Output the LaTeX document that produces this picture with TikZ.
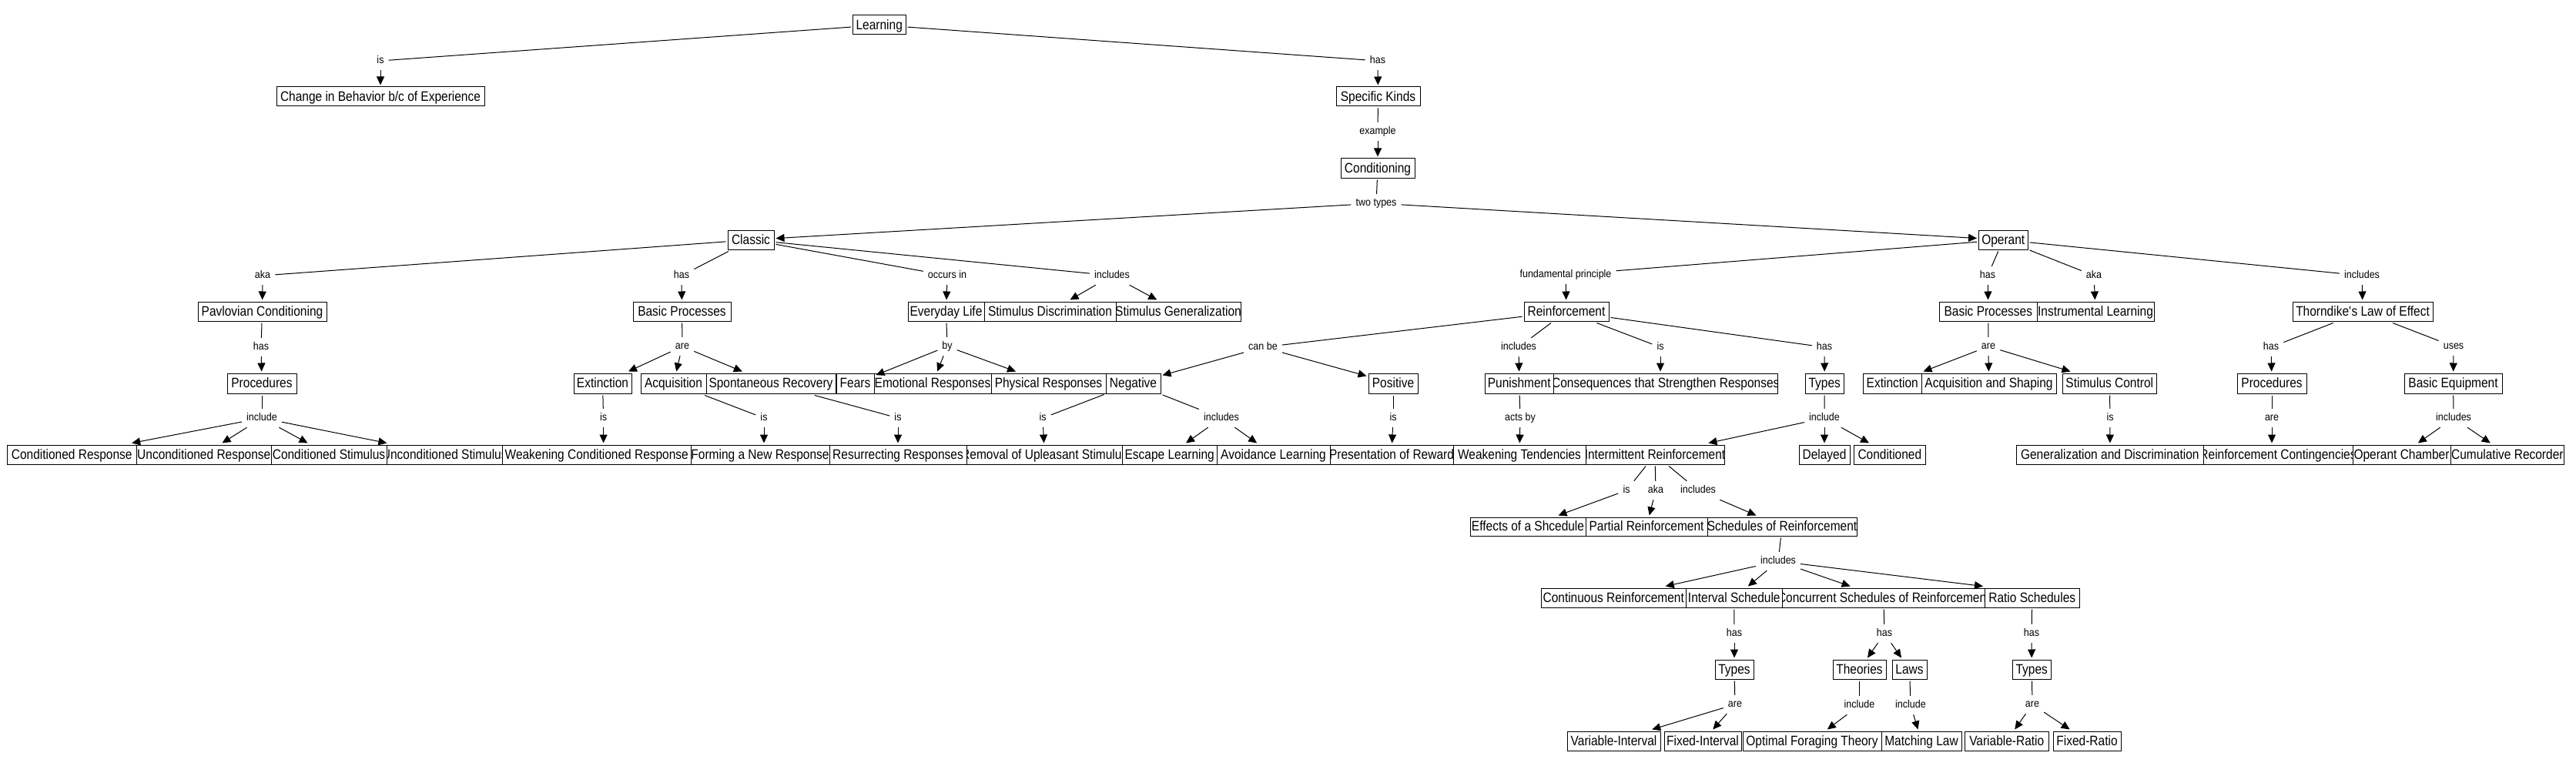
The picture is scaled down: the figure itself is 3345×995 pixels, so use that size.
\documentclass[tikz,border=0pt]{standalone}
\usepackage{fontspec}
\setmainfont{Liberation Sans}
\newfontfamily\cfont[FakeStretch=0.87]{Liberation Sans}
\newfontfamily\lfont[FakeStretch=0.9]{Liberation Sans}
\usetikzlibrary{arrows.meta,calc}
\tikzset{
  cbox/.style={draw=black, fill=white, line width=1pt, inner sep=0pt, outer sep=2.5pt},
  ctext/.style={anchor=base, inner sep=0pt, font=\cfont\fontsize{17.8}{20}\selectfont},
  lab/.style={inner xsep=6pt, inner ysep=5.5pt, text height=10pt, text depth=3pt, font=\lfont\fontsize{13.9}{15}\selectfont},
  lk/.style={line width=1pt},
  ar/.style={line width=1pt, -{Triangle[length=11pt,width=10pt]}},
}
% #1 name, #2 x1, #3 x2, #4 y1, #5 y2, #6 text
\newcommand\mkcpt[6]{%
  \node[cbox, minimum width={(#3)-(#2)}, minimum height={(#5)-(#4)}] (#1) at ({((#2)+(#3))/2},{((#4)+(#5))/2}) {};
  \begin{scope}
    \clip (#2,#4) rectangle (#3,#5);
    \node[ctext] (#1-t) at ($(#1.center)+(0,5.6)$) {#6};
  \end{scope}
}
\begin{document}
\begin{tikzpicture}[x=1pt,y=-1pt]
\fill[white] (0,0) rectangle (3345,995);
\useasboundingbox (0,0) rectangle (3345,995);

% ---------- concepts ----------
\mkcpt{learning}{1107.5}{1176}{20}{45}{Learning}
\mkcpt{chg}{359}{629}{113}{138}{Change in Behavior b/c of Experience}
\mkcpt{spk}{1735}{1844}{113}{138}{Specific Kinds}
\mkcpt{cond}{1741}{1837}{206}{231}{Conditioning}
\mkcpt{classic}{945}{1005}{299}{324}{Classic}
\mkcpt{operant}{2569.5}{2633}{299}{324}{Operant}
% row B
\mkcpt{pav}{257}{424}{392}{417}{Pavlovian Conditioning}
\mkcpt{bpc}{822}{949}{392}{417}{Basic Processes}
\mkcpt{evl}{1179}{1278}{392}{417}{Everyday Life}
\mkcpt{sdisc}{1278}{1449}{392}{417}{Stimulus Discrimination}
\mkcpt{sgen}{1449}{1611}{392}{417}{Stimulus Generalization}
\mkcpt{reinf}{1979}{2089}{392}{417}{Reinforcement}
\mkcpt{bpo}{2518.6}{2645}{392}{417}{Basic Processes}
\mkcpt{instr}{2645}{2797}{392}{417}{Instrumental Learning}
\mkcpt{thorn}{2977}{3159}{392}{417}{Thorndike\textquotesingle s Law of Effect}
% row C
\mkcpt{procc}{295}{385}{485}{511}{Procedures}
\mkcpt{extc}{745}{820}{485}{511}{Extinction}
\mkcpt{acqc}{832}{917}{485}{511}{Acquisition}
\mkcpt{spont}{917}{1085}{485}{511}{Spontaneous Recovery}
\mkcpt{fears}{1086}{1135}{485}{511}{Fears}
\mkcpt{emo}{1135}{1287}{485}{511}{Emotional Responses}
\mkcpt{phys}{1287}{1436}{485}{511}{Physical Responses}
\mkcpt{neg}{1436}{1507}{485}{511}{Negative}
\mkcpt{pos}{1777}{1841}{485}{511}{Positive}
\mkcpt{pun}{1928}{2017.5}{485}{511}{Punishment}
\mkcpt{csr}{2017.5}{2308}{485}{511}{Consequences that Strengthen Responses}
\mkcpt{typesa}{2344.5}{2394}{485}{511}{Types}
\mkcpt{exto}{2419.5}{2495}{485}{511}{Extinction}
\mkcpt{acqs}{2495}{2670}{485}{511}{Acquisition and Shaping}
\mkcpt{stc}{2678.5}{2800}{485}{511}{Stimulus Control}
\mkcpt{proco}{2905}{2995}{485}{511}{Procedures}
\mkcpt{beq}{3122}{3249}{485}{511}{Basic Equipment}
% row D
\mkcpt{cr}{9}{177.5}{578}{603}{Conditioned Response}
\mkcpt{ur}{177.5}{352}{578}{603}{Unconditioned Response}
\mkcpt{cs}{352}{502}{578}{603}{Conditioned Stimulus}
\mkcpt{us}{502}{652.5}{578}{603}{Unconditioned Stimulus}
\mkcpt{wcr}{652.5}{897}{578}{603}{Weakening Conditioned Response}
\mkcpt{fnr}{897}{1077}{578}{603}{Forming a New Response}
\mkcpt{rr}{1077}{1255}{578}{603}{Resurrecting Responses}
\mkcpt{rem}{1255}{1457.5}{578}{603}{Removal of Upleasant Stimulus}
\mkcpt{esc}{1457.5}{1580}{578}{603}{Escape Learning}
\mkcpt{avo}{1580}{1727}{578}{603}{Avoidance Learning}
\mkcpt{pres}{1727}{1887}{578}{603}{Presentation of Reward}
\mkcpt{wt}{1887}{2059}{578}{603}{Weakening Tendencies}
\mkcpt{inter}{2059}{2239}{578}{603}{Intermittent Reinforcement}
\mkcpt{del}{2336}{2402}{578}{603}{Delayed}
\mkcpt{condd}{2407.6}{2500}{578}{603}{Conditioned}
\mkcpt{gd}{2618.5}{2861}{578}{603}{Generalization and Discrimination}
\mkcpt{rc}{2861}{3055}{578}{603}{Reinforcement Contingencies}
\mkcpt{och}{3055}{3182}{578}{603}{Operant Chamber}
\mkcpt{cum}{3182}{3329.6}{578}{603}{Cumulative Recorder}
% row E
\mkcpt{eff}{1909}{2059}{672}{696}{Effects of a Shcedule}
\mkcpt{part}{2059}{2217}{672}{696}{Partial Reinforcement}
\mkcpt{sched}{2217}{2411}{672}{696}{Schedules of Reinforcement}
% row F
\mkcpt{cont}{2001}{2189.5}{764}{789}{Continuous Reinforcement}
\mkcpt{ints}{2189.5}{2314}{764}{789}{Interval Schedule}
\mkcpt{conc}{2314}{2577.5}{764}{789}{Concurrent Schedules of Reinforcement}
\mkcpt{ratio}{2577.5}{2700}{764}{789}{Ratio Schedules}
% row G
\mkcpt{typesi}{2227}{2277}{857}{882}{Types}
\mkcpt{theo}{2380}{2449}{857}{882}{Theories}
\mkcpt{laws}{2457}{2502}{857}{882}{Laws}
\mkcpt{typesr}{2613.5}{2663}{857}{882}{Types}
% row H
\mkcpt{vi}{2035}{2156}{950}{975}{Variable-Interval}
\mkcpt{fi}{2161}{2261}{950}{975}{Fixed-Interval}
\mkcpt{oft}{2263}{2443}{950}{975}{Optimal Foraging Theory}
\mkcpt{ml}{2443}{2547}{950}{975}{Matching Law}
\mkcpt{vr}{2551.5}{2660}{950}{975}{Variable-Ratio}
\mkcpt{fr}{2666}{2754}{950}{975}{Fixed-Ratio}

% ---------- linking phrases ----------
\node[lab] (lisa) at (494,79) {is};
\node[lab] (lhasa) at (1789,79) {has};
\node[lab] (lex) at (1789,171) {example};
\node[lab] (ltwo) at (1787,264) {two types};
\node[lab] (lakaa) at (341,358) {aka};
\node[lab] (lhasb) at (885,358) {has};
\node[lab] (locc) at (1230,358) {occurs in};
\node[lab] (linca) at (1444,358) {includes};
\node[lab] (lfund) at (2033,357) {fundamental principle};
\node[lab] (lhasc) at (2581,358) {has};
\node[lab] (lakab) at (2719,358) {aka};
\node[lab] (lincb) at (3067,358) {includes};
\node[lab] (lhasd) at (339,451) {has};
\node[lab] (larea) at (886,450) {are};
\node[lab] (lby) at (1230,450) {by};
\node[lab] (lcan) at (1640,451) {can be};
\node[lab] (lincc) at (1972,451) {includes};
\node[lab] (lisb) at (2156,451) {is};
\node[lab] (lhase) at (2369,451) {has};
\node[lab] (lareb) at (2582,450) {are};
\node[lab] (lhasf) at (2949,451) {has};
\node[lab] (luses) at (3186,450) {uses};
\node[lab] (lincla) at (340,543) {include};
\node[lab] (lisc) at (783.6,543) {is};
\node[lab] (lisd) at (992,543) {is};
\node[lab] (lise) at (1166,543) {is};
\node[lab] (lisf) at (1354,543) {is};
\node[lab] (lincd) at (1586,543) {includes};
\node[lab] (lisg) at (1809,543) {is};
\node[lab] (lacts) at (1974,543) {acts by};
\node[lab] (linclb) at (2369,543) {include};
\node[lab] (lish) at (2740,543) {is};
\node[lab] (larec) at (2950,543) {are};
\node[lab] (lince) at (3186,543) {includes};
\node[lab] (lisi) at (2112,637) {is};
\node[lab] (lakac) at (2150,637) {aka};
\node[lab] (lincf) at (2205,637) {includes};
\node[lab] (lincg) at (2309,729) {includes};
\node[lab] (lhasg) at (2252,823) {has};
\node[lab] (lhash) at (2447,823) {has};
\node[lab] (lhasi) at (2638,823) {has};
\node[lab] (lared) at (2253,915) {are};
\node[lab] (lincc3) at (2414.5,916) {include};
\node[lab] (lincc4) at (2481,916) {include};
\node[lab] (laree) at (2639,915) {are};

% ---------- connections ----------
\draw[lk] (learning) -- (lisa);  \draw[ar] (lisa) -- (chg);
\draw[lk] (learning) -- (lhasa); \draw[ar] (lhasa) -- (spk);
\draw[lk] (spk) -- (lex);        \draw[ar] (lex) -- (cond);
\draw[lk] (cond) -- (ltwo);      \draw[ar] (ltwo) -- (classic); \draw[ar] (ltwo) -- (operant);
\draw[lk] (classic) -- (lakaa);  \draw[ar] (lakaa) -- (pav);
\draw[lk] (classic) -- (lhasb);  \draw[ar] (lhasb) -- (bpc);
\draw[lk] (classic) -- (locc);   \draw[ar] (locc) -- (evl);
\draw[lk] (classic) -- (linca);  \draw[ar] (linca) -- (sdisc); \draw[ar] (linca) -- (sgen);
\draw[lk] (operant) -- (lfund);  \draw[ar] (lfund) -- (reinf);
\draw[lk] (operant) -- (lhasc);  \draw[ar] (lhasc) -- (bpo);
\draw[lk] (operant) -- (lakab);  \draw[ar] (lakab) -- (instr);
\draw[lk] (operant) -- (lincb);  \draw[ar] (lincb) -- (thorn);
\draw[lk] (pav) -- (lhasd);      \draw[ar] (lhasd) -- (procc);
\draw[lk] (bpc) -- (larea);      \draw[ar] (larea) -- (extc); \draw[ar] (larea) -- (acqc); \draw[ar] (larea) -- (spont);
\draw[lk] (evl) -- (lby);        \draw[ar] (lby) -- (fears); \draw[ar] (lby) -- (emo); \draw[ar] (lby) -- (phys);
\draw[lk] (reinf) -- (lcan);     \draw[ar] (lcan) -- (neg); \draw[ar] (lcan) -- (pos);
\draw[lk] (reinf) -- (lincc);    \draw[ar] (lincc) -- (pun);
\draw[lk] (reinf) -- (lisb);     \draw[ar] (lisb) -- (lisb |- csr.north);
\draw[lk] (reinf) -- (lhase);    \draw[ar] (lhase) -- (typesa);
\draw[lk] (bpo) -- (lareb);      \draw[ar] (lareb) -- (exto); \draw[ar] (lareb) -- (acqs); \draw[ar] (lareb) -- (stc);
\draw[lk] (thorn) -- (lhasf);    \draw[ar] (lhasf) -- (proco);
\draw[lk] (thorn) -- (luses);    \draw[ar] (luses) -- (beq);
\draw[lk] (procc) -- (lincla);   \draw[ar] (lincla) -- (cr); \draw[ar] (lincla) -- (ur); \draw[ar] (lincla) -- (cs); \draw[ar] (lincla) -- (us);
\draw[lk] (extc) -- (lisc);      \draw[ar] (lisc) -- (lisc |- wcr.north);
\draw[lk] (acqc) -- (lisd);      \draw[ar] (lisd) -- (lisd |- fnr.north);
\draw[lk] (spont) -- (lise);     \draw[ar] (lise) -- (rr);
\draw[lk] (neg) -- (lisf);       \draw[ar] (lisf) -- (rem);
\draw[lk] (neg) -- (lincd);      \draw[ar] (lincd) -- (esc); \draw[ar] (lincd) -- (avo);
\draw[lk] (pos) -- (lisg);       \draw[ar] (lisg) -- (pres);
\draw[lk] (pun) -- (lacts);      \draw[ar] (lacts) -- (wt);
\draw[lk] (typesa) -- (linclb);  \draw[ar] (linclb) -- (inter); \draw[ar] (linclb) -- (del); \draw[ar] (linclb) -- (condd);
\draw[lk] (stc) -- (lish);       \draw[ar] (lish) -- (gd);
\draw[lk] (proco) -- (larec);    \draw[ar] (larec) -- (larec |- rc.north);
\draw[lk] (beq) -- (lince);      \draw[ar] (lince) -- (och); \draw[ar] (lince) -- (cum);
\draw[lk] (inter) -- (lisi);     \draw[ar] (lisi) -- (eff);
\draw[lk] (inter) -- (lakac);    \draw[ar] (lakac) -- (part);
\draw[lk] (inter) -- (lincf);    \draw[ar] (lincf) -- (sched);
\draw[lk] (sched) -- (lincg);    \draw[ar] (lincg) -- (cont); \draw[ar] (lincg) -- (ints); \draw[ar] (lincg) -- (conc); \draw[ar] (lincg) -- (ratio.north west);
\draw[lk] (ints) -- (lhasg);     \draw[ar] (lhasg) -- (typesi);
\draw[lk] (conc) -- (lhash);     \draw[ar] (lhash) -- (theo); \draw[ar] (lhash) -- (laws);
\draw[lk] (ratio) -- (lhasi);    \draw[ar] (lhasi) -- (typesr);
\draw[lk] (typesi) -- (lared);   \draw[ar] (lared) -- (vi); \draw[ar] (lared) -- (fi);
\draw[lk] (theo) -- (lincc3);    \draw[ar] (lincc3) -- (oft);
\draw[lk] (laws) -- (lincc4);    \draw[ar] (lincc4) -- (ml);
\draw[lk] (typesr) -- (laree);   \draw[ar] (laree) -- (vr); \draw[ar] (laree) -- (fr);
\end{tikzpicture}
\end{document}
